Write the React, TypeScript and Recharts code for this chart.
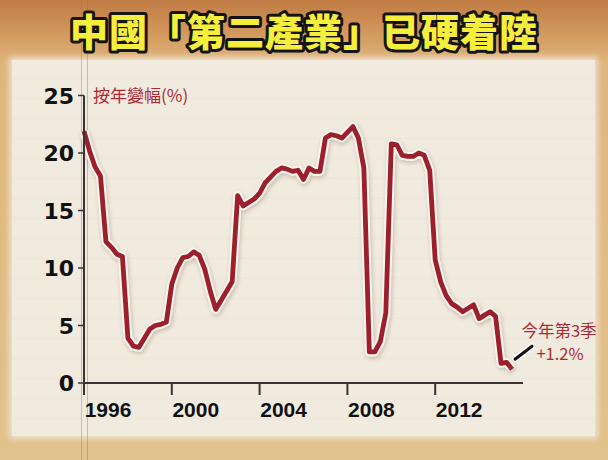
import { LineChart, Line, XAxis, YAxis, ReferenceDot } from "recharts";

const TITLE = "中國「第二產業」已硬着陸";
const Y_LABEL = "按年變幅(%)";
const NOTE_LINES = ["今年第3季", "+1.2%"];

const START_YEAR = 1996;
// quarterly year-on-year change, 1996Q1 .. 2015Q3
const growth = [
  21.9, 20.2, 18.8, 18.0,
  12.3, 11.8, 11.2, 11.0,
  3.9, 3.2, 3.1, 3.9,
  4.7, 5.0, 5.1, 5.3,
  8.6, 10.0, 10.9, 11.0,
  11.4, 11.1, 9.9, 8.0,
  6.4, 7.2, 8.0, 8.8,
  16.3, 15.4, 15.7, 16.0,
  16.5, 17.4, 17.9, 18.4,
  18.7, 18.6, 18.4, 18.5,
  17.7, 18.7, 18.4, 18.4,
  21.3, 21.6, 21.5, 21.3,
  21.8, 22.3, 21.3, 18.7,
  2.7, 2.7, 3.6, 6.1,
  20.8, 20.7, 19.8, 19.7,
  19.7, 20.0, 19.8, 18.5,
  10.7, 8.8, 7.6, 6.9,
  6.6, 6.2, 6.5, 6.8,
  5.6, 5.9, 6.2, 5.8,
  1.7, 1.8, 1.2,
];

const yearTicks = [1996, 2000, 2004, 2008, 2012];
const yTicks = [0, 5, 10, 15, 20, 25];

const data = growth.map((v, i) => ({
  quarter: `${START_YEAR + Math.floor(i / 4)}Q${(i % 4) + 1}`,
  t: START_YEAR + i / 4,
  value: v,
}));
const last = data[data.length - 1];

const RED = "#ad2a35";

function YearTick(props: any) {
  const { x, y, payload } = props;
  return (
    <text
      x={x + 24}
      y={y + 20}
      textAnchor="middle"
      fontFamily="'Liberation Sans Narrow', 'Liberation Sans', Arial, sans-serif"
      fontWeight="bold"
      fontSize={21}
      fill="#111"
    >
      {payload.value}
    </text>
  );
}

function ValueTick(props: any) {
  const { x, y, payload } = props;
  return (
    <text
      x={x}
      y={y + 8}
      textAnchor="end"
      fontFamily="'DejaVu Sans', sans-serif"
      fontWeight="bold"
      fontSize={22}
      fill="#111"
    >
      {payload.value}
    </text>
  );
}

function NoteShape(props: any) {
  const { cx, cy } = props;
  return (
    <g>
      <line x1={cx + 3} y1={cy - 10} x2={cx + 20} y2={cy - 23} stroke="#fff" strokeWidth={6} strokeLinecap="round" />
      <line x1={cx + 3} y1={cy - 10} x2={cx + 20} y2={cy - 23} stroke="#111" strokeWidth={3} strokeLinecap="round" />
      <text x={cx + 47} y={cy - 32} textAnchor="middle" fontFamily="'Noto Sans CJK TC', sans-serif" fontSize={16.5} fill={RED}>
        {NOTE_LINES[0]}
      </text>
      <text x={cx + 48} y={cy - 9} textAnchor="middle" fontFamily="'Noto Sans CJK TC', sans-serif" fontSize={16.5} fill={RED}>
        {NOTE_LINES[1]}
      </text>
    </g>
  );
}

export default function App() {
  return (
    <div
      style={{
        position: "absolute",
        left: 0,
        top: 0,
        width: 608,
        height: 460,
        overflow: "hidden",
        background:
          "linear-gradient(180deg, #c07c44 0px, #d39a5e 35px, #dfb47c 62px, #e2c28d 100%)",
      }}
    >
      <style>{`.halo-line path { filter: drop-shadow(1px 2px 2px rgba(80,50,30,0.25)); }`}</style>
      {/* paper panel */}
      <div
        style={{
          position: "absolute",
          left: 12,
          top: 60,
          width: 583,
          height: 376,
          background:
            "repeating-linear-gradient(180deg, rgba(255,255,255,0) 0px, rgba(255,255,255,0) 17px, rgba(170,150,120,0.06) 18px, rgba(255,255,255,0) 20px), #f1ebdf",
          boxShadow: "0 0 6px 3px rgba(241,235,223,0.8)",
        }}
      />
      {/* margin lines */}
      <div style={{ position: "absolute", left: 81, top: 0, width: 1, height: 460, background: "rgba(200,90,80,0.4)" }} />
      <div style={{ position: "absolute", left: 87, top: 0, width: 1, height: 460, background: "rgba(200,90,80,0.4)" }} />
      <svg width={608} height={70} style={{ position: "absolute", left: 0, top: 0 }}>
        <text
          x={304}
          y={46}
          textAnchor="middle"
          fontFamily="'Noto Sans CJK TC', sans-serif"
          fontWeight={900}
          fontSize={38}
          letterSpacing={1}
          fill="#f6ee3c"
          stroke="#141414"
          strokeWidth={6}
          strokeLinejoin="round"
          paintOrder="stroke"
        >
          {TITLE}
        </text>
      </svg>
      <div style={{ position: "absolute", left: 0, top: 0 }}>
        <LineChart
          width={608}
          height={460}
          data={data}
          margin={{ top: 95.5, right: 85, bottom: 37, left: 0 }}
        >
          <XAxis
            type="number"
            dataKey="t"
            domain={[1996, 2016]}
            ticks={yearTicks}
            interval={0}
            height={40}
            axisLine={{ stroke: "#3a3232", strokeWidth: 2 }}
            tickLine={{ stroke: "#3a3232", strokeWidth: 2 }}
            tickSize={12}
            tick={<YearTick />}
          />
          <YAxis
            type="number"
            domain={[0, 25]}
            ticks={yTicks}
            interval={0}
            width={84}
            axisLine={{ stroke: "#3a3232", strokeWidth: 2 }}
            tickLine={{ stroke: "#3a3232", strokeWidth: 1.5 }}
            tickSize={6}
            tickMargin={4}
            tick={<ValueTick />}
            label={{
              content: (p: any) => (
                <text
                  x={p.viewBox.x + p.viewBox.width + 9}
                  y={p.viewBox.y + 6}
                  fontFamily="'Noto Sans CJK TC', sans-serif"
                  fontSize={17}
                  fill={RED}
                >
                  {Y_LABEL}
                </text>
              ),
            }}
          />
          <Line
            className="halo-line"
            type="linear"
            dataKey="value"
            stroke="#fbf4ec"
            strokeWidth={9}
            strokeLinejoin="round"
            dot={false}
            activeDot={false}
            isAnimationActive={false}
          />
          <Line
            type="linear"
            dataKey="value"
            stroke="#9c1f2d"
            strokeWidth={4.8}
            strokeLinejoin="round"
            dot={false}
            activeDot={false}
            isAnimationActive={false}
          />
          <ReferenceDot x={last.t} y={last.value} r={0} shape={<NoteShape />} />
        </LineChart>
      </div>
    </div>
  );
}
